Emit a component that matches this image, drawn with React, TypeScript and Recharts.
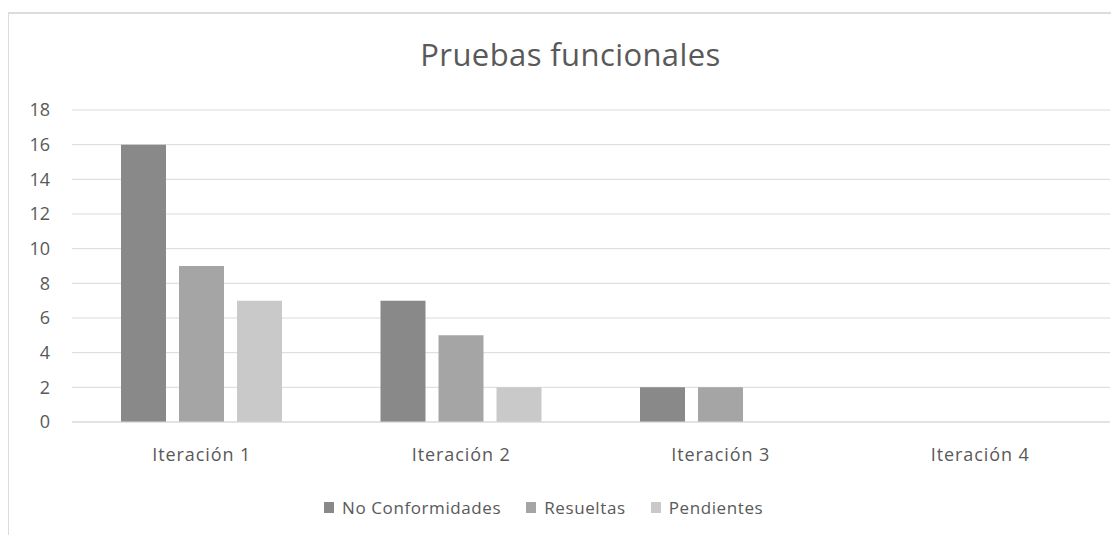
import React from 'react';
import { BarChart, Bar, XAxis, YAxis, CartesianGrid, Legend } from 'recharts';

const categories = ['Iteración 1', 'Iteración 2', 'Iteración 3', 'Iteración 4'];
const noConformidades = [16, 7, 2, 0];
const resueltas = [9, 5, 2, 0];
const pendientes = [7, 2, 0, 0];
const yTicks = [0, 2, 4, 6, 8, 10, 12, 14, 16, 18];

const seriesNames = ['No Conformidades', 'Resueltas', 'Pendientes'];
const seriesColors = ['#898989', '#a5a5a5', '#c9c9c9'];

const data = categories.map((c, i) => ({
  name: c,
  nc: noConformidades[i],
  res: resueltas[i],
  pen: pendientes[i],
}));

const FONT = '"Open Sans", Lato, sans-serif';
const TEXT = '#595959';

const renderLegend = () => (
  <div style={{ display: 'flex', alignItems: 'center', paddingLeft: 316, fontFamily: FONT, fontSize: 17, letterSpacing: 0.6, color: TEXT, height: 30 }}>
    {seriesNames.map((n, i) => (
      <div key={n} style={{ display: 'flex', alignItems: 'center', marginRight: 25 }}>
        <div style={{ width: 10, height: 11, background: seriesColors[i], marginRight: 8 }} />
        <span>{n}</span>
      </div>
    ))}
  </div>
);

export default function App() {
  return (
    <div style={{ position: 'relative', width: 1111, height: 527, overflow: 'hidden', background: '#fff' }}>
      <div style={{ position: 'absolute', left: -1, top: 4, width: 1200, height: 700, border: '2px solid #dcdcdc', boxSizing: 'border-box' }} />
      <div style={{ position: 'absolute', left: 0, width: 1111, top: 26, textAlign: 'center', fontFamily: FONT, fontSize: 31, letterSpacing: 0.4, color: TEXT, lineHeight: '40px', paddingLeft: 14, boxSizing: 'border-box' }}>
        Pruebas funcionales
      </div>
      <BarChart
        width={1111}
        height={527}
        data={data}
        margin={{ top: 102, right: 9, left: 24, bottom: 13 }}
        barSize={45}
        barGap={13}
      >
        <CartesianGrid vertical={false} stroke="#d9d9d9" />
        <XAxis
          dataKey="name"
          height={70}
          tickLine={false}
          tickSize={0}
          tickMargin={26}
          axisLine={{ stroke: '#d9d9d9' }}
          tick={{ fill: TEXT, fontSize: 18, fontFamily: FONT, letterSpacing: 0.9 }}
        />
        <YAxis
          width={40}
          domain={[0, 18]}
          ticks={yTicks}
          interval={0}
          axisLine={false}
          tickLine={false}
          tickSize={0}
          tickMargin={22}
          tick={{ fill: TEXT, fontSize: 18, fontFamily: FONT }}
        />
        <Legend verticalAlign="bottom" height={30} content={renderLegend} wrapperStyle={{ left: 0, width: 1111 }} />
        <Bar dataKey="nc" name={seriesNames[0]} fill={seriesColors[0]} isAnimationActive={false} />
        <Bar dataKey="res" name={seriesNames[1]} fill={seriesColors[1]} isAnimationActive={false} />
        <Bar dataKey="pen" name={seriesNames[2]} fill={seriesColors[2]} isAnimationActive={false} />
      </BarChart>
    </div>
  );
}
